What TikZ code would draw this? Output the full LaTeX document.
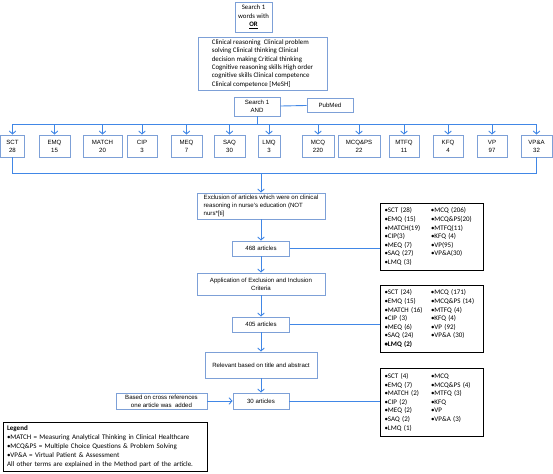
\documentclass[tikz,border=0pt]{standalone}
\usepackage{fontspec}
\setmainfont{Liberation Sans}
\newfontfamily\calibri{Carlito}
\usetikzlibrary{arrows.meta,positioning}
\definecolor{boxblue}{RGB}{125,160,215}
\definecolor{lineblue}{RGB}{65,135,230}

\begin{document}
\begin{tikzpicture}[x=1pt, y=-1pt, >={Straight Barb[length=3pt,width=6.5pt]},
  blue box/.style={draw=boxblue, line width=0.8pt, inner sep=1.5pt, align=center,
    font=\fontsize{6.1}{8}\selectfont},
  count box/.style={draw=black, line width=1pt, inner xsep=4.5pt, inner ysep=3.5pt,
    text width=94pt, font=\calibri\fontsize{7}{8.6}\selectfont},
  flow/.style={draw=lineblue, line width=0.9pt}]
  \useasboundingbox (0,0) rectangle (553,473);

  % search terms
  \node[blue box, minimum width=37, minimum height=30,
    font=\calibri\fontsize{6.8}{8.4}\selectfont] (search) at (253.5,17)
    {Search 1\\words with\\\underline{\textbf{OR}}};
  \node[blue box, minimum width=129, minimum height=53, align=left,
    font=\calibri\fontsize{6.9}{8.4}\selectfont] (terms) at (262.5,63.5)
    {Clinical reasoning\ \ Clinical problem\\
     solving Clinical thinking Clinical\\
     decision making Critical thinking\\
     Cognitive reasoning skills High order\\
     cognitive skills Clinical competence\\
     Clinical competence [MeSH]};
  \node[blue box, minimum width=46, minimum height=19] (and) at (257,106.5) {Search 1\\AND};
  \node[blue box, minimum width=46, minimum height=14] (pubmed) at (330,105) {PubMed};

  % question types
  \node[blue box, minimum width=24, minimum height=22] (sct) at (12.5,146) {SCT\\28};
  \node[blue box, minimum width=31, minimum height=22] (emq) at (54.5,146) {EMQ\\15};
  \node[blue box, minimum width=39, minimum height=22] (match) at (102.5,146) {MATCH\\20};
  \node[blue box, minimum width=30, minimum height=22] (cip) at (142,146) {CIP\\3};
  \node[blue box, minimum width=31, minimum height=22] (meq) at (186.5,146) {MEQ\\7};
  \node[blue box, minimum width=31, minimum height=22] (saq) at (229.5,146) {SAQ\\30};
  \node[blue box, minimum width=22, minimum height=22] (lmq) at (269,146) {LMQ\\3};
  \node[blue box, minimum width=32, minimum height=22] (mcq) at (318,146) {MCQ\\220};
  \node[blue box, minimum width=42, minimum height=22] (mcqps) at (359,146) {MCQ\&PS\\22};
  \node[blue box, minimum width=30, minimum height=22] (mtfq) at (404,146) {MTFQ\\11};
  \node[blue box, minimum width=30, minimum height=22] (kfq) at (448,146) {KFQ\\4};
  \node[blue box, minimum width=30, minimum height=22] (vp) at (492,146) {VP\\97};
  \node[blue box, minimum width=31, minimum height=22] (vpa) at (536.5,146) {VP\&A\\32};
  \coordinate (busT) at (257,124);
  \coordinate (busB) at (261,173);

  % selection steps
  \node[blue box, minimum width=128, minimum height=26, align=left] (excl) at (261,206)
    {Exclusion of articles which were on clinical\\
     reasoning in nurse's education (NOT\\
     nurs*[ti]};
  \node[blue box, minimum width=57, minimum height=15] (a468) at (261,248.5) {468 articles};
  \node[blue box, minimum width=128, minimum height=22] (appl) at (261,284)
    {Application of Exclusion and Inclusion\\Criteria};
  \node[blue box, minimum width=57, minimum height=15] (a405) at (261,324.5) {405 articles};
  \node[blue box, minimum width=112, minimum height=26] (relev) at (261,365)
    {Relevant based on title and abstract};
  \node[blue box, minimum width=56, minimum height=16] (a30) at (261,401) {30 articles};
  \node[blue box, minimum width=91, minimum height=16] (cross) at (161.5,401)
    {Based on cross references\\one article was\ \ added};

  % counts per step
  \node[count box] (box1) at (431.5,237) {%
    \begin{tabular}{@{}p{46.5pt}@{}l@{}}
      •SCT (28) & •MCQ (206)\\
      •EMQ (15) & •MCQ\&PS(20)\\
      •MATCH(19) & •MTFQ(11)\\
      •CIP(3) & •KFQ (4)\\
      •MEQ (7) & •VP(95)\\
      •SAQ (27) & •VP\&A(30)\\
      •LMQ (3) &
    \end{tabular}};
  \node[count box] (box2) at (431.5,319) {%
    \begin{tabular}{@{}p{46.5pt}@{}l@{}}
      •SCT (24) & •MCQ (171)\\
      •EMQ (15) & •MCQ\&PS (14)\\
      •MATCH (16) & •MTFQ (4)\\
      •CIP (3) & •KFQ (4)\\
      •MEQ (6) & •VP (92)\\
      •SAQ (24) & •VP\&A (30)\\
      \textbf{•LMQ (2)} &
    \end{tabular}};
  \node[count box] (box3) at (431.5,402.5) {%
    \begin{tabular}{@{}p{46.5pt}@{}l@{}}
      •SCT (4) & •MCQ\\
      •EMQ (7) & •MCQ\&PS (4)\\
      •MATCH (2) & •MTFQ (3)\\
      •CIP (2) & •KFQ\\
      •MEQ (2) & •VP\\
      •SAQ (2) & •VP\&A (3)\\
      •LMQ (1) &
    \end{tabular}};

  % legend
  \node[draw=black, line width=1pt, text width=196pt, align=left, inner xsep=4pt,
    inner ysep=3pt, font=\calibri\fontsize{7}{9}\selectfont] (legend) at (105,447)
    {\textbf{Legend}\\
     •MATCH = Measuring Analytical Thinking in Clinical Healthcare\\
     •MCQ\&PS = Multiple Choice Questions \& Problem Solving\\
     •VP\&A = Virtual Patient \& Assessment\\
     All other terms are explained in the Method part of the article.};

  % connectors
  \draw[flow] (and) -- (pubmed);
  \draw[flow] (and) -- (busT);
  \draw[flow, ->] (busT) -| (sct);
  \draw[flow, ->] (busT) -| (emq);
  \draw[flow, ->] (busT) -| (match);
  \draw[flow, ->] (busT) -| (cip);
  \draw[flow, ->] (busT) -| (meq);
  \draw[flow, ->] (busT) -| (saq);
  \draw[flow, ->] (busT) -| (lmq);
  \draw[flow, ->] (busT) -| (mcq);
  \draw[flow, ->] (busT) -| (mcqps);
  \draw[flow, ->] (busT) -| (mtfq);
  \draw[flow, ->] (busT) -| (kfq);
  \draw[flow, ->] (busT) -| (vp);
  \draw[flow, ->] (busT) -| (vpa);
  \draw[flow] (sct) |- (busB);
  \draw[flow] (vpa) |- (busB);
  \draw[flow, ->] (busB) -- (excl);
  \draw[flow, ->] (excl) -- (a468);
  \draw[flow, ->] (a468) -- (appl);
  \draw[flow, ->] (appl) -- (a405);
  \draw[flow, ->] (a405) -- (relev);
  \draw[flow, ->] (relev) -- (a30);
  \draw[flow, ->] (cross) -- (a30);
  \draw[flow] (a468) -- (a468 -| box1.west);
  \draw[flow] (a405) -- (a405 -| box2.west);
  \draw[flow] (a30) -- (a30 -| box3.west);
\end{tikzpicture}
\end{document}
